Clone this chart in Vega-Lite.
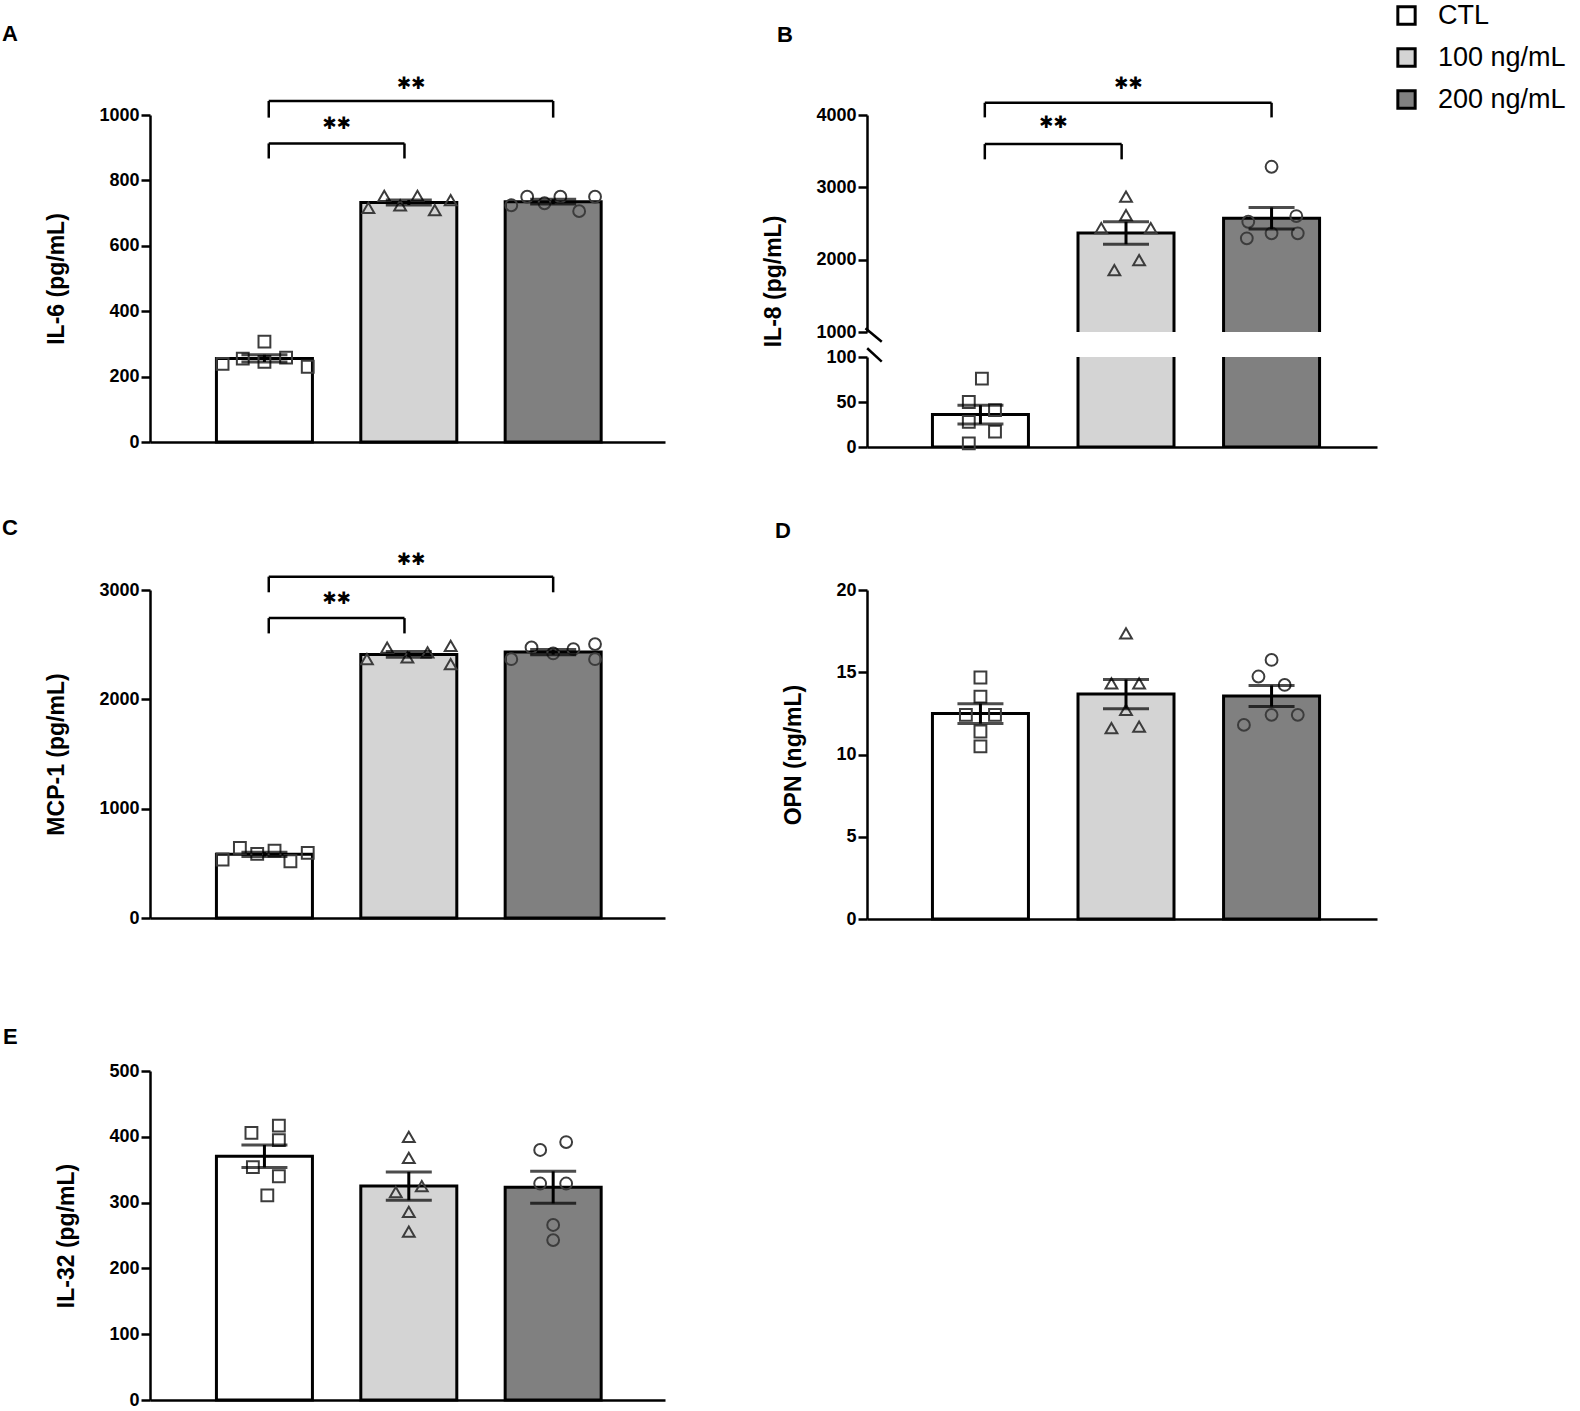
{
  "$schema": "https://vega.github.io/schema/vega-lite/v6.json",
  "padding": {"left": 1, "top": 2, "right": 5, "bottom": 5},
  "background": "white",
  "datasets": {
    "pts": [
      {"panel": "A", "grp": "CTL", "gi": 1, "jx": -0.29, "v": 239},
      {"panel": "A", "grp": "CTL", "gi": 1, "jx": -0.15, "v": 255},
      {"panel": "A", "grp": "CTL", "gi": 1, "jx": 0, "v": 307},
      {"panel": "A", "grp": "CTL", "gi": 1, "jx": 0, "v": 245},
      {"panel": "A", "grp": "CTL", "gi": 1, "jx": 0.15, "v": 258},
      {"panel": "A", "grp": "CTL", "gi": 1, "jx": 0.3, "v": 230},
      {"panel": "A", "grp": "100 ng/mL", "gi": 2, "jx": -0.28, "v": 716},
      {"panel": "A", "grp": "100 ng/mL", "gi": 2, "jx": -0.17, "v": 753},
      {"panel": "A", "grp": "100 ng/mL", "gi": 2, "jx": -0.06, "v": 724},
      {"panel": "A", "grp": "100 ng/mL", "gi": 2, "jx": 0.06, "v": 753},
      {"panel": "A", "grp": "100 ng/mL", "gi": 2, "jx": 0.18, "v": 709},
      {"panel": "A", "grp": "100 ng/mL", "gi": 2, "jx": 0.29, "v": 740},
      {"panel": "A", "grp": "200 ng/mL", "gi": 3, "jx": -0.29, "v": 724},
      {"panel": "A", "grp": "200 ng/mL", "gi": 3, "jx": -0.18, "v": 750},
      {"panel": "A", "grp": "200 ng/mL", "gi": 3, "jx": -0.06, "v": 730},
      {"panel": "A", "grp": "200 ng/mL", "gi": 3, "jx": 0.05, "v": 750},
      {"panel": "A", "grp": "200 ng/mL", "gi": 3, "jx": 0.18, "v": 706},
      {"panel": "A", "grp": "200 ng/mL", "gi": 3, "jx": 0.29, "v": 750},
      {"panel": "B", "grp": "CTL", "gi": 1, "jx": 0.01, "v": 76},
      {"panel": "B", "grp": "CTL", "gi": 1, "jx": -0.08, "v": 50},
      {"panel": "B", "grp": "CTL", "gi": 1, "jx": -0.08, "v": 28},
      {"panel": "B", "grp": "CTL", "gi": 1, "jx": 0.1, "v": 41},
      {"panel": "B", "grp": "CTL", "gi": 1, "jx": 0.1, "v": 17},
      {"panel": "B", "grp": "CTL", "gi": 1, "jx": -0.08, "v": 4},
      {"panel": "B", "grp": "100 ng/mL", "gi": 2, "jx": 0, "v": 2870},
      {"panel": "B", "grp": "100 ng/mL", "gi": 2, "jx": 0, "v": 2617},
      {"panel": "B", "grp": "100 ng/mL", "gi": 2, "jx": -0.17, "v": 2437},
      {"panel": "B", "grp": "100 ng/mL", "gi": 2, "jx": 0.17, "v": 2437},
      {"panel": "B", "grp": "100 ng/mL", "gi": 2, "jx": -0.08, "v": 1857},
      {"panel": "B", "grp": "100 ng/mL", "gi": 2, "jx": 0.09, "v": 1995},
      {"panel": "B", "grp": "200 ng/mL", "gi": 3, "jx": 0, "v": 3284},
      {"panel": "B", "grp": "200 ng/mL", "gi": 3, "jx": -0.16, "v": 2524},
      {"panel": "B", "grp": "200 ng/mL", "gi": 3, "jx": 0.17, "v": 2603},
      {"panel": "B", "grp": "200 ng/mL", "gi": 3, "jx": -0.17, "v": 2295},
      {"panel": "B", "grp": "200 ng/mL", "gi": 3, "jx": 0, "v": 2364},
      {"panel": "B", "grp": "200 ng/mL", "gi": 3, "jx": 0.18, "v": 2364},
      {"panel": "C", "grp": "CTL", "gi": 1, "jx": -0.29, "v": 535},
      {"panel": "C", "grp": "CTL", "gi": 1, "jx": -0.17, "v": 642},
      {"panel": "C", "grp": "CTL", "gi": 1, "jx": -0.05, "v": 587},
      {"panel": "C", "grp": "CTL", "gi": 1, "jx": 0.07, "v": 617},
      {"panel": "C", "grp": "CTL", "gi": 1, "jx": 0.18, "v": 519},
      {"panel": "C", "grp": "CTL", "gi": 1, "jx": 0.3, "v": 596},
      {"panel": "C", "grp": "100 ng/mL", "gi": 2, "jx": -0.29, "v": 2367},
      {"panel": "C", "grp": "100 ng/mL", "gi": 2, "jx": -0.15, "v": 2474},
      {"panel": "C", "grp": "100 ng/mL", "gi": 2, "jx": -0.01, "v": 2383},
      {"panel": "C", "grp": "100 ng/mL", "gi": 2, "jx": 0.13, "v": 2429},
      {"panel": "C", "grp": "100 ng/mL", "gi": 2, "jx": 0.29, "v": 2490},
      {"panel": "C", "grp": "100 ng/mL", "gi": 2, "jx": 0.29, "v": 2322},
      {"panel": "C", "grp": "200 ng/mL", "gi": 3, "jx": -0.29, "v": 2367},
      {"panel": "C", "grp": "200 ng/mL", "gi": 3, "jx": -0.15, "v": 2474},
      {"panel": "C", "grp": "200 ng/mL", "gi": 3, "jx": 0, "v": 2420},
      {"panel": "C", "grp": "200 ng/mL", "gi": 3, "jx": 0.14, "v": 2459},
      {"panel": "C", "grp": "200 ng/mL", "gi": 3, "jx": 0.29, "v": 2505},
      {"panel": "C", "grp": "200 ng/mL", "gi": 3, "jx": 0.29, "v": 2367},
      {"panel": "D", "grp": "CTL", "gi": 1, "jx": 0, "v": 14.68},
      {"panel": "D", "grp": "CTL", "gi": 1, "jx": 0, "v": 13.52},
      {"panel": "D", "grp": "CTL", "gi": 1, "jx": -0.1, "v": 12.41},
      {"panel": "D", "grp": "CTL", "gi": 1, "jx": 0.1, "v": 12.41},
      {"panel": "D", "grp": "CTL", "gi": 1, "jx": 0, "v": 11.4},
      {"panel": "D", "grp": "CTL", "gi": 1, "jx": 0, "v": 10.49},
      {"panel": "D", "grp": "100 ng/mL", "gi": 2, "jx": 0, "v": 17.37},
      {"panel": "D", "grp": "100 ng/mL", "gi": 2, "jx": -0.1, "v": 14.33},
      {"panel": "D", "grp": "100 ng/mL", "gi": 2, "jx": 0.09, "v": 14.33},
      {"panel": "D", "grp": "100 ng/mL", "gi": 2, "jx": 0, "v": 12.71},
      {"panel": "D", "grp": "100 ng/mL", "gi": 2, "jx": -0.1, "v": 11.6},
      {"panel": "D", "grp": "100 ng/mL", "gi": 2, "jx": 0.09, "v": 11.7},
      {"panel": "D", "grp": "200 ng/mL", "gi": 3, "jx": 0, "v": 15.75},
      {"panel": "D", "grp": "200 ng/mL", "gi": 3, "jx": -0.09, "v": 14.74},
      {"panel": "D", "grp": "200 ng/mL", "gi": 3, "jx": 0.09, "v": 14.23},
      {"panel": "D", "grp": "200 ng/mL", "gi": 3, "jx": -0.19, "v": 11.8},
      {"panel": "D", "grp": "200 ng/mL", "gi": 3, "jx": 0, "v": 12.41},
      {"panel": "D", "grp": "200 ng/mL", "gi": 3, "jx": 0.18, "v": 12.41},
      {"panel": "E", "grp": "CTL", "gi": 1, "jx": -0.09, "v": 406},
      {"panel": "E", "grp": "CTL", "gi": 1, "jx": 0.1, "v": 417},
      {"panel": "E", "grp": "CTL", "gi": 1, "jx": 0.1, "v": 395},
      {"panel": "E", "grp": "CTL", "gi": 1, "jx": -0.08, "v": 354},
      {"panel": "E", "grp": "CTL", "gi": 1, "jx": 0.1, "v": 340},
      {"panel": "E", "grp": "CTL", "gi": 1, "jx": 0.02, "v": 311},
      {"panel": "E", "grp": "100 ng/mL", "gi": 2, "jx": 0, "v": 400},
      {"panel": "E", "grp": "100 ng/mL", "gi": 2, "jx": 0, "v": 368},
      {"panel": "E", "grp": "100 ng/mL", "gi": 2, "jx": -0.09, "v": 316},
      {"panel": "E", "grp": "100 ng/mL", "gi": 2, "jx": 0.09, "v": 325},
      {"panel": "E", "grp": "100 ng/mL", "gi": 2, "jx": 0, "v": 286},
      {"panel": "E", "grp": "100 ng/mL", "gi": 2, "jx": 0, "v": 256},
      {"panel": "E", "grp": "200 ng/mL", "gi": 3, "jx": -0.09, "v": 380},
      {"panel": "E", "grp": "200 ng/mL", "gi": 3, "jx": 0.09, "v": 392},
      {"panel": "E", "grp": "200 ng/mL", "gi": 3, "jx": -0.09, "v": 329},
      {"panel": "E", "grp": "200 ng/mL", "gi": 3, "jx": 0.09, "v": 329},
      {"panel": "E", "grp": "200 ng/mL", "gi": 3, "jx": 0, "v": 266},
      {"panel": "E", "grp": "200 ng/mL", "gi": 3, "jx": 0, "v": 243}
    ],
    "brk": [
      {"panel": "A", "xa": 1.03, "xb": 1.97, "y": 913, "yl": 867, "ys": 974, "sig": "✱✱"},
      {"panel": "A", "xa": 1.03, "xb": 3.0, "y": 1043, "yl": 992, "ys": 1094, "sig": "✱✱"},
      {"panel": "B", "xa": 1.03, "xb": 1.97, "y": 3598, "yl": 3387, "ys": 3884, "sig": "✱✱"},
      {"panel": "B", "xa": 1.03, "xb": 3.0, "y": 4169, "yl": 3967, "ys": 4427, "sig": "✱✱"},
      {"panel": "C", "xa": 1.03, "xb": 1.97, "y": 2743, "yl": 2603, "ys": 2917, "sig": "✱✱"},
      {"panel": "C", "xa": 1.03, "xb": 3.0, "y": 3122, "yl": 2979, "ys": 3275, "sig": "✱✱"}
    ]
  },
  "config": {
    "view": {"stroke": null},
    "numberFormat": "d",
    "point": {"filled": false, "size": 140, "strokeWidth": 2, "color": "#3c3c3c", "opacity": 1},
    "axis": {
      "domainColor": "black", "domainWidth": 2.5, "tickColor": "black", "tickWidth": 2.5, "tickSize": 9,
      "labelFont": "Liberation Sans", "labelFontSize": 18, "labelFontWeight": "bold", "labelColor": "black", "labelPadding": 2,
      "titleFont": "Liberation Sans", "titleFontSize": 23, "titleFontWeight": "bold", "titleColor": "black", "titlePadding": 30,
      "grid": false
    },
    "legend": {"symbolType": "square", "symbolSize": 300, "symbolStrokeColor": "black", "symbolStrokeWidth": 3, "labelFontSize": 27, "labelFont": "Liberation Sans", "labelColor": "black", "rowPadding": 11, "labelOffset": 18, "padding": 0},
    "title": {"font": "Liberation Sans", "fontSize": 22, "fontWeight": "bold", "color": "black", "anchor": "start", "frame": "bounds"}
  },
  "spacing": 98,
  "vconcat": [
    {
      "spacing": 60,
      "vconcat": [
        {
          "spacing": 97,
          "hconcat": [
            {
              "title": {"text": "A", "dx": -44, "offset": 29},
              "width": 515, "height": 327,
              "layer": [
                {
                  "data": {"name": "pts"},
                  "transform": [{"filter": "datum.panel == 'A'"}, {"calculate": "datum.gi + datum.jx", "as": "xp"}],
                  "layer": [
                    {
                      "mark": {"type": "bar", "width": 96, "stroke": "black", "strokeWidth": 3, "orient": "vertical"},
                      "encoding": {
                        "x": {"field": "gi", "type": "quantitative", "scale": {"domain": [0.242, 3.74]}, "axis": {"labels": false, "ticks": false}, "title": null},
                        "y": {"aggregate": "mean", "field": "v", "type": "quantitative", "scale": {"domain": [0, 1000]}, "axis": {"values": [0, 200, 400, 600, 800, 1000]}, "title": "IL-6 (pg/mL)"},
                        "color": {"field": "grp", "type": "nominal", "scale": {"domain": ["CTL", "100 ng/mL", "200 ng/mL"], "range": ["#ffffff", "#d4d4d4", "#808080"]}, "legend": {"title": null, "orient": "none", "legendX": 1243, "legendY": -113}}
                      }
                    },
                    {
                      "transform": [{"filter": "datum.grp == 'CTL'"}],
                      "mark": {"type": "point", "shape": "square"},
                      "encoding": {
                        "x": {"field": "xp", "type": "quantitative", "scale": {"domain": [0.242, 3.74]}, "axis": {"labels": false, "ticks": false}, "title": null},
                        "y": {"field": "v", "type": "quantitative", "scale": {"domain": [0, 1000]}, "axis": {"values": [0, 200, 400, 600, 800, 1000]}, "title": "IL-6 (pg/mL)"}
                      }
                    },
                    {
                      "transform": [{"filter": "datum.grp == '100 ng/mL'"}],
                      "mark": {"type": "point", "shape": "triangle-up"},
                      "encoding": {
                        "x": {"field": "xp", "type": "quantitative", "scale": {"domain": [0.242, 3.74]}, "axis": {"labels": false, "ticks": false}, "title": null},
                        "y": {"field": "v", "type": "quantitative", "scale": {"domain": [0, 1000]}, "axis": {"values": [0, 200, 400, 600, 800, 1000]}, "title": "IL-6 (pg/mL)"}
                      }
                    },
                    {
                      "transform": [{"filter": "datum.grp == '200 ng/mL'"}],
                      "mark": {"type": "point", "shape": "circle"},
                      "encoding": {
                        "x": {"field": "xp", "type": "quantitative", "scale": {"domain": [0.242, 3.74]}, "axis": {"labels": false, "ticks": false}, "title": null},
                        "y": {"field": "v", "type": "quantitative", "scale": {"domain": [0, 1000]}, "axis": {"values": [0, 200, 400, 600, 800, 1000]}, "title": "IL-6 (pg/mL)"}
                      }
                    },
                    {
                      "mark": {"type": "errorbar", "extent": "stderr", "orient": "vertical", "color": "black", "thickness": 3, "ticks": {"size": 46, "thickness": 3, "color": "black"}},
                      "encoding": {
                        "x": {"field": "gi", "type": "quantitative", "scale": {"domain": [0.242, 3.74]}, "axis": {"labels": false, "ticks": false}, "title": null},
                        "y": {"field": "v", "type": "quantitative", "scale": {"domain": [0, 1000]}, "axis": {"values": [0, 200, 400, 600, 800, 1000]}, "title": "IL-6 (pg/mL)"}
                      }
                    }
                  ]
                },
                {
                  "data": {"name": "brk"},
                  "transform": [{"filter": "datum.panel == 'A'"}, {"calculate": "(datum.xa + datum.xb) / 2", "as": "xm"}],
                  "layer": [
                    {
                      "mark": {"type": "rule", "strokeWidth": 2.5, "color": "black"},
                      "encoding": {
                        "x": {"field": "xa", "type": "quantitative", "scale": {"domain": [0.242, 3.74]}, "axis": {"labels": false, "ticks": false}, "title": null},
                        "x2": {"field": "xb"},
                        "y": {"field": "y", "type": "quantitative", "scale": {"domain": [0, 1000]}, "axis": {"values": [0, 200, 400, 600, 800, 1000]}, "title": "IL-6 (pg/mL)"}
                      }
                    },
                    {
                      "mark": {"type": "rule", "strokeWidth": 2.5, "color": "black"},
                      "encoding": {
                        "x": {"field": "xa", "type": "quantitative", "scale": {"domain": [0.242, 3.74]}, "axis": {"labels": false, "ticks": false}, "title": null},
                        "y": {"field": "y", "type": "quantitative", "scale": {"domain": [0, 1000]}, "axis": {"values": [0, 200, 400, 600, 800, 1000]}, "title": "IL-6 (pg/mL)"},
                        "y2": {"field": "yl"}
                      }
                    },
                    {
                      "mark": {"type": "rule", "strokeWidth": 2.5, "color": "black"},
                      "encoding": {
                        "x": {"field": "xb", "type": "quantitative", "scale": {"domain": [0.242, 3.74]}, "axis": {"labels": false, "ticks": false}, "title": null},
                        "y": {"field": "y", "type": "quantitative", "scale": {"domain": [0, 1000]}, "axis": {"values": [0, 200, 400, 600, 800, 1000]}, "title": "IL-6 (pg/mL)"},
                        "y2": {"field": "yl"}
                      }
                    },
                    {
                      "mark": {"type": "text", "font": "DejaVu Sans", "fontSize": 17, "baseline": "middle", "align": "center", "color": "black"},
                      "encoding": {
                        "x": {"field": "xm", "type": "quantitative", "scale": {"domain": [0.242, 3.74]}, "axis": {"labels": false, "ticks": false}, "title": null},
                        "y": {"field": "ys", "type": "quantitative", "scale": {"domain": [0, 1000]}, "axis": {"values": [0, 200, 400, 600, 800, 1000]}, "title": "IL-6 (pg/mL)"},
                        "text": {"field": "sig"}
                      }
                    }
                  ]
                }
              ]
            },
            {
              "title": {"text": "B", "dx": 14, "offset": 28},
              "spacing": 25,
              "bounds": "flush",
              "vconcat": [
                {
                  "width": 510, "height": 217,
                  "layer": [
                    {
                      "data": {"name": "pts"},
                      "transform": [{"filter": "datum.panel == 'B'"}, {"calculate": "datum.gi + datum.jx", "as": "xp"}],
                      "layer": [
                        {
                          "mark": {"type": "bar", "width": 96, "stroke": "black", "strokeWidth": 3, "orient": "vertical", "clip": true},
                          "encoding": {
                            "x": {"field": "gi", "type": "quantitative", "scale": {"domain": [0.255, 3.69]}, "axis": null},
                            "y": {"aggregate": "mean", "field": "v", "type": "quantitative", "scale": {"domain": [1000, 4000]}, "axis": {"values": [1000, 2000, 3000, 4000], "titleY": 166}, "title": "IL-8 (pg/mL)"},
                            "y2": {"datum": 0},
                            "color": {"field": "grp", "type": "nominal", "scale": {"domain": ["CTL", "100 ng/mL", "200 ng/mL"], "range": ["#ffffff", "#d4d4d4", "#808080"]}, "legend": {"title": null, "orient": "none", "legendX": 1243, "legendY": -113}}
                          }
                        },
                        {
                          "transform": [{"filter": "datum.grp == '100 ng/mL'"}],
                          "mark": {"type": "point", "shape": "triangle-up"},
                          "encoding": {
                            "x": {"field": "xp", "type": "quantitative", "scale": {"domain": [0.255, 3.69]}, "axis": null},
                            "y": {"field": "v", "type": "quantitative", "scale": {"domain": [1000, 4000]}, "axis": {"values": [1000, 2000, 3000, 4000], "titleY": 166}, "title": "IL-8 (pg/mL)"}
                          }
                        },
                        {
                          "transform": [{"filter": "datum.grp == '200 ng/mL'"}],
                          "mark": {"type": "point", "shape": "circle"},
                          "encoding": {
                            "x": {"field": "xp", "type": "quantitative", "scale": {"domain": [0.255, 3.69]}, "axis": null},
                            "y": {"field": "v", "type": "quantitative", "scale": {"domain": [1000, 4000]}, "axis": {"values": [1000, 2000, 3000, 4000], "titleY": 166}, "title": "IL-8 (pg/mL)"}
                          }
                        },
                        {
                          "transform": [{"filter": "datum.grp != 'CTL'"}],
                          "mark": {"type": "errorbar", "extent": "stderr", "orient": "vertical", "color": "black", "thickness": 3, "ticks": {"size": 46, "thickness": 3, "color": "black"}},
                          "encoding": {
                            "x": {"field": "gi", "type": "quantitative", "scale": {"domain": [0.255, 3.69]}, "axis": null},
                            "y": {"field": "v", "type": "quantitative", "scale": {"domain": [1000, 4000]}, "axis": {"values": [1000, 2000, 3000, 4000], "titleY": 166}, "title": "IL-8 (pg/mL)"}
                          }
                        }
                      ]
                    },
                    {
                      "data": {"name": "brk"},
                      "transform": [{"filter": "datum.panel == 'B'"}, {"calculate": "(datum.xa + datum.xb) / 2", "as": "xm"}],
                      "layer": [
                        {
                          "mark": {"type": "rule", "strokeWidth": 2.5, "color": "black"},
                          "encoding": {
                            "x": {"field": "xa", "type": "quantitative", "scale": {"domain": [0.255, 3.69]}, "axis": null},
                            "x2": {"field": "xb"},
                            "y": {"field": "y", "type": "quantitative", "scale": {"domain": [1000, 4000]}, "axis": {"values": [1000, 2000, 3000, 4000], "titleY": 166}, "title": "IL-8 (pg/mL)"}
                          }
                        },
                        {
                          "mark": {"type": "rule", "strokeWidth": 2.5, "color": "black"},
                          "encoding": {
                            "x": {"field": "xa", "type": "quantitative", "scale": {"domain": [0.255, 3.69]}, "axis": null},
                            "y": {"field": "y", "type": "quantitative", "scale": {"domain": [1000, 4000]}, "axis": {"values": [1000, 2000, 3000, 4000], "titleY": 166}, "title": "IL-8 (pg/mL)"},
                            "y2": {"field": "yl"}
                          }
                        },
                        {
                          "mark": {"type": "rule", "strokeWidth": 2.5, "color": "black"},
                          "encoding": {
                            "x": {"field": "xb", "type": "quantitative", "scale": {"domain": [0.255, 3.69]}, "axis": null},
                            "y": {"field": "y", "type": "quantitative", "scale": {"domain": [1000, 4000]}, "axis": {"values": [1000, 2000, 3000, 4000], "titleY": 166}, "title": "IL-8 (pg/mL)"},
                            "y2": {"field": "yl"}
                          }
                        },
                        {
                          "mark": {"type": "text", "font": "DejaVu Sans", "fontSize": 17, "baseline": "middle", "align": "center", "color": "black"},
                          "encoding": {
                            "x": {"field": "xm", "type": "quantitative", "scale": {"domain": [0.255, 3.69]}, "axis": null},
                            "y": {"field": "ys", "type": "quantitative", "scale": {"domain": [1000, 4000]}, "axis": {"values": [1000, 2000, 3000, 4000], "titleY": 166}, "title": "IL-8 (pg/mL)"},
                            "text": {"field": "sig"}
                          }
                        }
                      ]
                    },
                    {
                      "data": {"values": [{}]},
                      "mark": {"type": "rule", "strokeWidth": 2.5, "color": "black"},
                      "encoding": {
                        "x": {"datum": 0.21, "type": "quantitative", "scale": {"domain": [0.255, 3.69]}, "axis": null},
                        "x2": {"datum": 0.322},
                        "y": {"datum": 1051, "type": "quantitative", "scale": {"domain": [1000, 4000]}, "axis": {"values": [1000, 2000, 3000, 4000], "titleY": 166}, "title": "IL-8 (pg/mL)"},
                        "y2": {"datum": 866}
                      }
                    }
                  ]
                },
                {
                  "width": 510, "height": 90,
                  "layer": [
                    {
                      "data": {"name": "pts"},
                      "transform": [{"filter": "datum.panel == 'B'"}, {"calculate": "datum.gi + datum.jx", "as": "xp"}],
                      "layer": [
                        {
                          "mark": {"type": "bar", "width": 96, "stroke": "black", "strokeWidth": 3, "orient": "vertical", "clip": true},
                          "encoding": {
                            "x": {"field": "gi", "type": "quantitative", "scale": {"domain": [0.255, 3.69]}, "axis": {"labels": false, "ticks": false}, "title": null},
                            "y": {"aggregate": "mean", "field": "v", "type": "quantitative", "scale": {"domain": [0, 100]}, "axis": {"values": [0, 50, 100]}, "title": null},
                            "color": {"field": "grp", "type": "nominal", "scale": {"domain": ["CTL", "100 ng/mL", "200 ng/mL"], "range": ["#ffffff", "#d4d4d4", "#808080"]}, "legend": {"title": null, "orient": "none", "legendX": 1243, "legendY": -113}}
                          }
                        },
                        {
                          "transform": [{"filter": "datum.grp == 'CTL'"}],
                          "mark": {"type": "point", "shape": "square"},
                          "encoding": {
                            "x": {"field": "xp", "type": "quantitative", "scale": {"domain": [0.255, 3.69]}, "axis": {"labels": false, "ticks": false}, "title": null},
                            "y": {"field": "v", "type": "quantitative", "scale": {"domain": [0, 100]}, "axis": {"values": [0, 50, 100]}, "title": null}
                          }
                        },
                        {
                          "transform": [{"filter": "datum.grp == 'CTL'"}],
                          "mark": {"type": "errorbar", "extent": "stderr", "orient": "vertical", "color": "black", "thickness": 3, "ticks": {"size": 46, "thickness": 3, "color": "black"}},
                          "encoding": {
                            "x": {"field": "gi", "type": "quantitative", "scale": {"domain": [0.255, 3.69]}, "axis": {"labels": false, "ticks": false}, "title": null},
                            "y": {"field": "v", "type": "quantitative", "scale": {"domain": [0, 100]}, "axis": {"values": [0, 50, 100]}, "title": null}
                          }
                        }
                      ]
                    },
                    {
                      "data": {"values": [{}]},
                      "mark": {"type": "rule", "strokeWidth": 2.5, "color": "black"},
                      "encoding": {
                        "x": {"datum": 0.222, "type": "quantitative", "scale": {"domain": [0.255, 3.69]}, "axis": {"labels": false, "ticks": false}, "title": null},
                        "x2": {"datum": 0.322},
                        "y": {"datum": 109.7, "type": "quantitative", "scale": {"domain": [0, 100]}, "axis": {"values": [0, 50, 100]}, "title": null},
                        "y2": {"datum": 94.8}
                      }
                    }
                  ]
                }
              ]
            }
          ]
        },
        {
          "spacing": 109,
          "hconcat": [
            {
              "title": {"text": "C", "dx": -44, "offset": 11},
              "width": 515, "height": 328,
              "layer": [
                {
                  "data": {"name": "pts"},
                  "transform": [{"filter": "datum.panel == 'C'"}, {"calculate": "datum.gi + datum.jx", "as": "xp"}],
                  "layer": [
                    {
                      "mark": {"type": "bar", "width": 96, "stroke": "black", "strokeWidth": 3, "orient": "vertical"},
                      "encoding": {
                        "x": {"field": "gi", "type": "quantitative", "scale": {"domain": [0.242, 3.74]}, "axis": {"labels": false, "ticks": false}, "title": null},
                        "y": {"aggregate": "mean", "field": "v", "type": "quantitative", "scale": {"domain": [0, 3000]}, "axis": {"values": [0, 1000, 2000, 3000]}, "title": "MCP-1 (pg/mL)"},
                        "color": {"field": "grp", "type": "nominal", "scale": {"domain": ["CTL", "100 ng/mL", "200 ng/mL"], "range": ["#ffffff", "#d4d4d4", "#808080"]}, "legend": {"title": null, "orient": "none", "legendX": 1243, "legendY": -113}}
                      }
                    },
                    {
                      "transform": [{"filter": "datum.grp == 'CTL'"}],
                      "mark": {"type": "point", "shape": "square"},
                      "encoding": {
                        "x": {"field": "xp", "type": "quantitative", "scale": {"domain": [0.242, 3.74]}, "axis": {"labels": false, "ticks": false}, "title": null},
                        "y": {"field": "v", "type": "quantitative", "scale": {"domain": [0, 3000]}, "axis": {"values": [0, 1000, 2000, 3000]}, "title": "MCP-1 (pg/mL)"}
                      }
                    },
                    {
                      "transform": [{"filter": "datum.grp == '100 ng/mL'"}],
                      "mark": {"type": "point", "shape": "triangle-up"},
                      "encoding": {
                        "x": {"field": "xp", "type": "quantitative", "scale": {"domain": [0.242, 3.74]}, "axis": {"labels": false, "ticks": false}, "title": null},
                        "y": {"field": "v", "type": "quantitative", "scale": {"domain": [0, 3000]}, "axis": {"values": [0, 1000, 2000, 3000]}, "title": "MCP-1 (pg/mL)"}
                      }
                    },
                    {
                      "transform": [{"filter": "datum.grp == '200 ng/mL'"}],
                      "mark": {"type": "point", "shape": "circle"},
                      "encoding": {
                        "x": {"field": "xp", "type": "quantitative", "scale": {"domain": [0.242, 3.74]}, "axis": {"labels": false, "ticks": false}, "title": null},
                        "y": {"field": "v", "type": "quantitative", "scale": {"domain": [0, 3000]}, "axis": {"values": [0, 1000, 2000, 3000]}, "title": "MCP-1 (pg/mL)"}
                      }
                    },
                    {
                      "mark": {"type": "errorbar", "extent": "stderr", "orient": "vertical", "color": "black", "thickness": 3, "ticks": {"size": 46, "thickness": 3, "color": "black"}},
                      "encoding": {
                        "x": {"field": "gi", "type": "quantitative", "scale": {"domain": [0.242, 3.74]}, "axis": {"labels": false, "ticks": false}, "title": null},
                        "y": {"field": "v", "type": "quantitative", "scale": {"domain": [0, 3000]}, "axis": {"values": [0, 1000, 2000, 3000]}, "title": "MCP-1 (pg/mL)"}
                      }
                    }
                  ]
                },
                {
                  "data": {"name": "brk"},
                  "transform": [{"filter": "datum.panel == 'C'"}, {"calculate": "(datum.xa + datum.xb) / 2", "as": "xm"}],
                  "layer": [
                    {
                      "mark": {"type": "rule", "strokeWidth": 2.5, "color": "black"},
                      "encoding": {
                        "x": {"field": "xa", "type": "quantitative", "scale": {"domain": [0.242, 3.74]}, "axis": {"labels": false, "ticks": false}, "title": null},
                        "x2": {"field": "xb"},
                        "y": {"field": "y", "type": "quantitative", "scale": {"domain": [0, 3000]}, "axis": {"values": [0, 1000, 2000, 3000]}, "title": "MCP-1 (pg/mL)"}
                      }
                    },
                    {
                      "mark": {"type": "rule", "strokeWidth": 2.5, "color": "black"},
                      "encoding": {
                        "x": {"field": "xa", "type": "quantitative", "scale": {"domain": [0.242, 3.74]}, "axis": {"labels": false, "ticks": false}, "title": null},
                        "y": {"field": "y", "type": "quantitative", "scale": {"domain": [0, 3000]}, "axis": {"values": [0, 1000, 2000, 3000]}, "title": "MCP-1 (pg/mL)"},
                        "y2": {"field": "yl"}
                      }
                    },
                    {
                      "mark": {"type": "rule", "strokeWidth": 2.5, "color": "black"},
                      "encoding": {
                        "x": {"field": "xb", "type": "quantitative", "scale": {"domain": [0.242, 3.74]}, "axis": {"labels": false, "ticks": false}, "title": null},
                        "y": {"field": "y", "type": "quantitative", "scale": {"domain": [0, 3000]}, "axis": {"values": [0, 1000, 2000, 3000]}, "title": "MCP-1 (pg/mL)"},
                        "y2": {"field": "yl"}
                      }
                    },
                    {
                      "mark": {"type": "text", "font": "DejaVu Sans", "fontSize": 17, "baseline": "middle", "align": "center", "color": "black"},
                      "encoding": {
                        "x": {"field": "xm", "type": "quantitative", "scale": {"domain": [0.242, 3.74]}, "axis": {"labels": false, "ticks": false}, "title": null},
                        "y": {"field": "ys", "type": "quantitative", "scale": {"domain": [0, 3000]}, "axis": {"values": [0, 1000, 2000, 3000]}, "title": "MCP-1 (pg/mL)"},
                        "text": {"field": "sig"}
                      }
                    }
                  ]
                }
              ]
            },
            {
              "title": {"text": "D", "dx": -8, "offset": 38},
              "width": 510, "height": 329,
              "data": {"name": "pts"},
              "transform": [{"filter": "datum.panel == 'D'"}, {"calculate": "datum.gi + datum.jx", "as": "xp"}],
              "layer": [
                {
                  "mark": {"type": "bar", "width": 96, "stroke": "black", "strokeWidth": 3, "orient": "vertical"},
                  "encoding": {
                    "x": {"field": "gi", "type": "quantitative", "scale": {"domain": [0.255, 3.69]}, "axis": {"labels": false, "ticks": false}, "title": null},
                    "y": {"aggregate": "mean", "field": "v", "type": "quantitative", "scale": {"domain": [0, 20]}, "axis": {"values": [0, 5, 10, 15, 20]}, "title": "OPN (ng/mL)"},
                    "color": {"field": "grp", "type": "nominal", "scale": {"domain": ["CTL", "100 ng/mL", "200 ng/mL"], "range": ["#ffffff", "#d4d4d4", "#808080"]}, "legend": {"title": null, "orient": "none", "legendX": 1243, "legendY": -113}}
                  }
                },
                {
                  "transform": [{"filter": "datum.grp == 'CTL'"}],
                  "mark": {"type": "point", "shape": "square"},
                  "encoding": {
                    "x": {"field": "xp", "type": "quantitative", "scale": {"domain": [0.255, 3.69]}, "axis": {"labels": false, "ticks": false}, "title": null},
                    "y": {"field": "v", "type": "quantitative", "scale": {"domain": [0, 20]}, "axis": {"values": [0, 5, 10, 15, 20]}, "title": "OPN (ng/mL)"}
                  }
                },
                {
                  "transform": [{"filter": "datum.grp == '100 ng/mL'"}],
                  "mark": {"type": "point", "shape": "triangle-up"},
                  "encoding": {
                    "x": {"field": "xp", "type": "quantitative", "scale": {"domain": [0.255, 3.69]}, "axis": {"labels": false, "ticks": false}, "title": null},
                    "y": {"field": "v", "type": "quantitative", "scale": {"domain": [0, 20]}, "axis": {"values": [0, 5, 10, 15, 20]}, "title": "OPN (ng/mL)"}
                  }
                },
                {
                  "transform": [{"filter": "datum.grp == '200 ng/mL'"}],
                  "mark": {"type": "point", "shape": "circle"},
                  "encoding": {
                    "x": {"field": "xp", "type": "quantitative", "scale": {"domain": [0.255, 3.69]}, "axis": {"labels": false, "ticks": false}, "title": null},
                    "y": {"field": "v", "type": "quantitative", "scale": {"domain": [0, 20]}, "axis": {"values": [0, 5, 10, 15, 20]}, "title": "OPN (ng/mL)"}
                  }
                },
                {
                  "mark": {"type": "errorbar", "extent": "stderr", "orient": "vertical", "color": "black", "thickness": 3, "ticks": {"size": 46, "thickness": 3, "color": "black"}},
                  "encoding": {
                    "x": {"field": "gi", "type": "quantitative", "scale": {"domain": [0.255, 3.69]}, "axis": {"labels": false, "ticks": false}, "title": null},
                    "y": {"field": "v", "type": "quantitative", "scale": {"domain": [0, 20]}, "axis": {"values": [0, 5, 10, 15, 20]}, "title": "OPN (ng/mL)"}
                  }
                }
              ]
            }
          ]
        }
      ]
    },
    {
      "title": {"text": "E", "dx": -53, "offset": 13},
      "width": 515, "height": 329,
      "data": {"name": "pts"},
      "transform": [{"filter": "datum.panel == 'E'"}, {"calculate": "datum.gi + datum.jx", "as": "xp"}],
      "layer": [
        {
          "mark": {"type": "bar", "width": 96, "stroke": "black", "strokeWidth": 3, "orient": "vertical"},
          "encoding": {
            "x": {"field": "gi", "type": "quantitative", "scale": {"domain": [0.242, 3.74]}, "axis": {"labels": false, "ticks": false}, "title": null},
            "y": {"aggregate": "mean", "field": "v", "type": "quantitative", "scale": {"domain": [0, 500]}, "axis": {"values": [0, 100, 200, 300, 400, 500]}, "title": "IL-32 (pg/mL)"},
            "color": {"field": "grp", "type": "nominal", "scale": {"domain": ["CTL", "100 ng/mL", "200 ng/mL"], "range": ["#ffffff", "#d4d4d4", "#808080"]}, "legend": {"title": null, "orient": "none", "legendX": 1243, "legendY": -113}}
          }
        },
        {
          "transform": [{"filter": "datum.grp == 'CTL'"}],
          "mark": {"type": "point", "shape": "square"},
          "encoding": {
            "x": {"field": "xp", "type": "quantitative", "scale": {"domain": [0.242, 3.74]}, "axis": {"labels": false, "ticks": false}, "title": null},
            "y": {"field": "v", "type": "quantitative", "scale": {"domain": [0, 500]}, "axis": {"values": [0, 100, 200, 300, 400, 500]}, "title": "IL-32 (pg/mL)"}
          }
        },
        {
          "transform": [{"filter": "datum.grp == '100 ng/mL'"}],
          "mark": {"type": "point", "shape": "triangle-up"},
          "encoding": {
            "x": {"field": "xp", "type": "quantitative", "scale": {"domain": [0.242, 3.74]}, "axis": {"labels": false, "ticks": false}, "title": null},
            "y": {"field": "v", "type": "quantitative", "scale": {"domain": [0, 500]}, "axis": {"values": [0, 100, 200, 300, 400, 500]}, "title": "IL-32 (pg/mL)"}
          }
        },
        {
          "transform": [{"filter": "datum.grp == '200 ng/mL'"}],
          "mark": {"type": "point", "shape": "circle"},
          "encoding": {
            "x": {"field": "xp", "type": "quantitative", "scale": {"domain": [0.242, 3.74]}, "axis": {"labels": false, "ticks": false}, "title": null},
            "y": {"field": "v", "type": "quantitative", "scale": {"domain": [0, 500]}, "axis": {"values": [0, 100, 200, 300, 400, 500]}, "title": "IL-32 (pg/mL)"}
          }
        },
        {
          "mark": {"type": "errorbar", "extent": "stderr", "orient": "vertical", "color": "black", "thickness": 3, "ticks": {"size": 46, "thickness": 3, "color": "black"}},
          "encoding": {
            "x": {"field": "gi", "type": "quantitative", "scale": {"domain": [0.242, 3.74]}, "axis": {"labels": false, "ticks": false}, "title": null},
            "y": {"field": "v", "type": "quantitative", "scale": {"domain": [0, 500]}, "axis": {"values": [0, 100, 200, 300, 400, 500]}, "title": "IL-32 (pg/mL)"}
          }
        }
      ]
    }
  ]
}
